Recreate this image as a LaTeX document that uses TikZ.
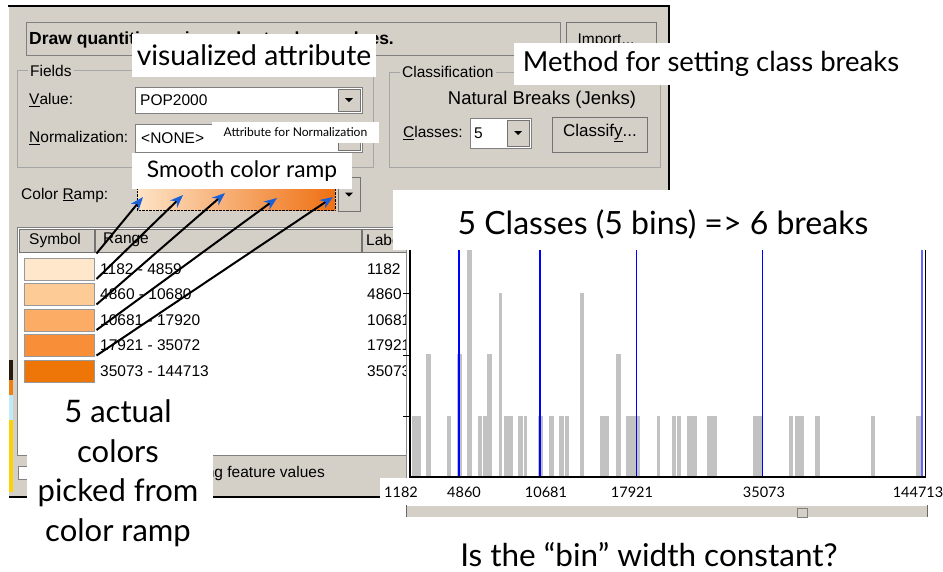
\documentclass[tikz,border=0pt]{standalone}
\usepackage{fontspec}
\setmainfont{Lato}
\newfontfamily\winfont{Liberation Sans}
\usetikzlibrary{arrows.meta}
\definecolor{dlggray}{HTML}{D4D0C8}
\definecolor{bargray}{HTML}{C2C2C2}
\definecolor{tipblue}{HTML}{1A5FD6}
\definecolor{rampfrom}{HTML}{FDE3C6}
\definecolor{rampto}{HTML}{EF7012}
\definecolor{clsA}{HTML}{FEE7CB}
\definecolor{clsB}{HTML}{FDCB95}
\definecolor{clsC}{HTML}{FCAC65}
\definecolor{clsD}{HTML}{F98E38}
\definecolor{clsE}{HTML}{EE7508}

\begin{document}
\begin{tikzpicture}[x=1pt,y=-1pt,
  win/.style={font=\winfont\fontsize{15.5}{18}\selectfont,inner sep=0pt,anchor=west},
  sunk/.style={draw=black!50,line width=1pt},
  btn/.style={draw=black!55,fill=dlggray,line width=1pt},
  etch/.style={draw=black!35,line width=1pt},
  swatch/.style={draw=black!40,line width=1pt,minimum width=70,minimum height=22,inner sep=0pt},
  callout/.style={fill=white,inner sep=0pt,font=\fontsize{28}{32}\selectfont},
  ptr/.style={line width=2pt,-{Stealth[length=13pt,width=10pt,color=tipblue,fill=tipblue]}},
  histbar/.style={fill=bargray},
  brk/.style={blue,line width=1.2pt},
  axlbl/.style={font=\fontsize{14.5}{17}\selectfont,inner sep=0pt}]
\useasboundingbox (0,0) rectangle (943,571);

% dialog window
\fill[dlggray] (9,6) rectangle (668,497);
\draw[line width=2pt] (8,6) -- (669,6) -- (669,190);
\draw[line width=2pt] (9,497) -- (380,497);
\fill[black!80!brown] (9,360) rectangle (13,380);
\fill[orange!70!brown] (9,380) rectangle (13,395);
\fill[cyan!25] (9,395) rectangle (13,420);
\fill[yellow!70!orange] (9,420) rectangle (13,492);

\draw[sunk] (26,22) rectangle (560,55);
\node[win,font=\winfont\bfseries\fontsize{17.5}{20}\selectfont] (drawtitle) at (29,40) {Draw quantities using color to show values.};
\draw[btn] (566,22) rectangle (656,58);
\node[win,anchor=center] (importbtn) at (606,41) {Import...};

% fields group
\draw[etch] (17,70) rectangle (373,167);
\node[win,fill=dlggray,inner xsep=2pt] (fieldslbl) at (28,71) {Fields};
\node[win] (valuelbl) at (29,100) {\underline{V}alue:};
\draw[sunk,fill=white] (135,87) rectangle (362,113);
\node[win] (valuetxt) at (140,100) {POP2000};
\node[win] (normlbl) at (29,138) {\underline{N}ormalization:};
\draw[sunk,fill=white] (135,124) rectangle (362,152);
\node[win] (normtxt) at (141,138) {<NONE>};

% classification group
\draw[etch] (389,72) rectangle (660,167);
\node[win,fill=dlggray,inner xsep=2pt] (classlbl) at (400,72) {Classification};
\node[win,anchor=center,font=\winfont\fontsize{18.5}{20}\selectfont] (methodtxt) at (542,100) {Natural Breaks (Jenks)};
\node[win] (classeslbl) at (403,133) {\underline{C}lasses:};
\draw[sunk,fill=white] (470,118) rectangle (531,148);
\node[win] (classesval) at (474,133) {5};
\draw[btn] (552,117) rectangle (647,152);
\node[win,anchor=center,font=\winfont\fontsize{17}{20}\selectfont] (classifybtn) at (600,133) {Classif\underline{y}...};

% color ramp
\node[win] (ramplbl) at (21,195) {Color \underline{R}amp:};
\shade[left color=rampfrom,right color=rampto] (137,188) rectangle (335,210);
\draw[densely dotted] (137,188) rectangle (335,210);

% drop-down buttons
\foreach \cx/\cy/\h in {349/100/11, 349/138/12, 349/194.5/17, 518/133/13}{
  \draw[btn] (\cx-11,\cy-\h) rectangle (\cx+11,\cy+\h);
  \fill (\cx-4,\cy-2) -- (\cx+4,\cy-2) -- (\cx,\cy+2) -- cycle;
}

% class list
\draw[sunk,fill=white] (17,227) rectangle (420,455);
\draw[btn] (19,229) rectangle (94,252);
\draw[btn] (95,229) rectangle (361,252);
\draw[btn] (362,229) rectangle (420,252);
\node[win] (symhead) at (29,240) {Symbol};
\node[win] (rnghead) at (103,240) {Range};
\node[win] (labhead) at (366,240) {Label};
\foreach \i/\c/\rng/\lab in {0/clsA/1182 - 4859/1182, 1/clsB/4860 - 10680/4860,
    2/clsC/10681 - 17920/10681, 3/clsD/17921 - 35072/17921, 4/clsE/35073 - 144713/35073}{
  \node[swatch,fill=\c] (sw\i) at (59,{269+25.5*\i}) {};
  \node[win] (rng\i) at (100,{269+25.5*\i}) {\rng};
  \node[win] (lab\i) at (367,{269+25.5*\i}) {\lab};
}
\draw[sunk,fill=white] (18,466) rectangle (31,479);
\node[win,anchor=east] (showvals) at (325,473) {Show class ranges using feature values};

% where each class colour comes from
\coordinate (rp0) at (143,197);
\coordinate (rp1) at (183,195);
\coordinate (rp2) at (225,193);
\coordinate (rp3) at (277,198);
\coordinate (rp4) at (333,197);
\foreach \i in {0,...,4}
  \draw[ptr] ([shift={(2,-4)}]sw\i.north east) -- (rp\i);

% histogram
\fill[white] (393,190) rectangle (943,250);
\node[callout,font=\fontsize{32}{36}\selectfont] (binsnote) at (663,224) {5 Classes (5 bins) => 6 breaks};
\fill[white] (406,250) rectangle (926,478);
\foreach \a/\b/\n in {411.7/421/1, 426/430.7/2, 446.7/451.3/1, 457.3/462/2, 467.3/472/3.7,
    478/481.7/1, 482.7/487.3/1, 487.3/492.3/2, 498.7/502.3/3, 503.7/513/1, 518/522.7/1,
    524/527.3/1, 538.3/543.3/1, 549.3/554/1, 559/563.7/1, 565/568.7/1, 579.7/584.3/3,
    600/609.3/1, 616/620.7/2, 625.7/640/1, 656.7/660.3/1, 671.7/676/1, 677.3/680.7/1,
    686.7/696.7/1, 707.3/717.3/1, 753.3/762.3/1, 789.3/792.7/1, 794.7/804/1,
    815/819.7/1, 870.7/875.3/1, 916/921.7/1}
  \fill[histbar] (\a,477) rectangle (\b,{477-61.3*\n});
\foreach \x in {459,540,636.7,762.3}
  \draw[brk] (\x,250) -- (\x,477);
\draw[blue!60,line width=2pt] (922,250) -- (922,477);
\draw[black!45] (406,250) -- (406,478);
\draw[line width=1.2pt] (410,250) -- (410,477) -- (925.5,477) -- (925.5,250);
\foreach \t in {293,355,416}
  \draw[line width=1pt] (403,\t) -- (410,\t);

\fill[white] (380,478) rectangle (943,503);
\foreach \x/\v in {401/1182, 464/4860, 546/10681, 632/17921, 764/35073, 918/144713}
  \node[axlbl] (brk\v) at (\x,492) {\v};
\fill[dlggray] (406,505) rectangle (927,517);
\draw[white] (406,505.5) -- (927,505.5);
\draw[black!60] (406,505) -- (406,517);
\draw[black!60] (927,505) -- (927,517);
\draw[black!50] (797,508) rectangle (807,517);

\node[font=\fontsize{31.5}{34}\selectfont,inner sep=0pt,anchor=base] (binq) at (649,566) {Is the “bin” width constant?};

% callouts over the dialog
\node[callout,font=\fontsize{28.3}{32}\selectfont,minimum width=244,minimum height=43] (visattr) at (254,55.5) {visualized attribute};
\node[callout,font=\fontsize{27.5}{32}\selectfont,minimum width=394,minimum height=42] (methodnote) at (711,64) {Method for setting class breaks};
\node[callout,font=\fontsize{12.1}{14}\selectfont,minimum width=167,minimum height=21] (normnote) at (295.5,132.5) {Attribute for Normalization};
\node[callout,font=\fontsize{22.8}{26}\selectfont,minimum width=220,minimum height=36] (rampnote) at (242,171) {Smooth color ramp};
\fill[white] (27,392) rectangle (213,560);
\node[font=\fontsize{31}{39.5}\selectfont,align=center,inner sep=0pt] (pickednote) at (118,473) {5 actual\\colors\\picked from\\color ramp};
\end{tikzpicture}
\end{document}
